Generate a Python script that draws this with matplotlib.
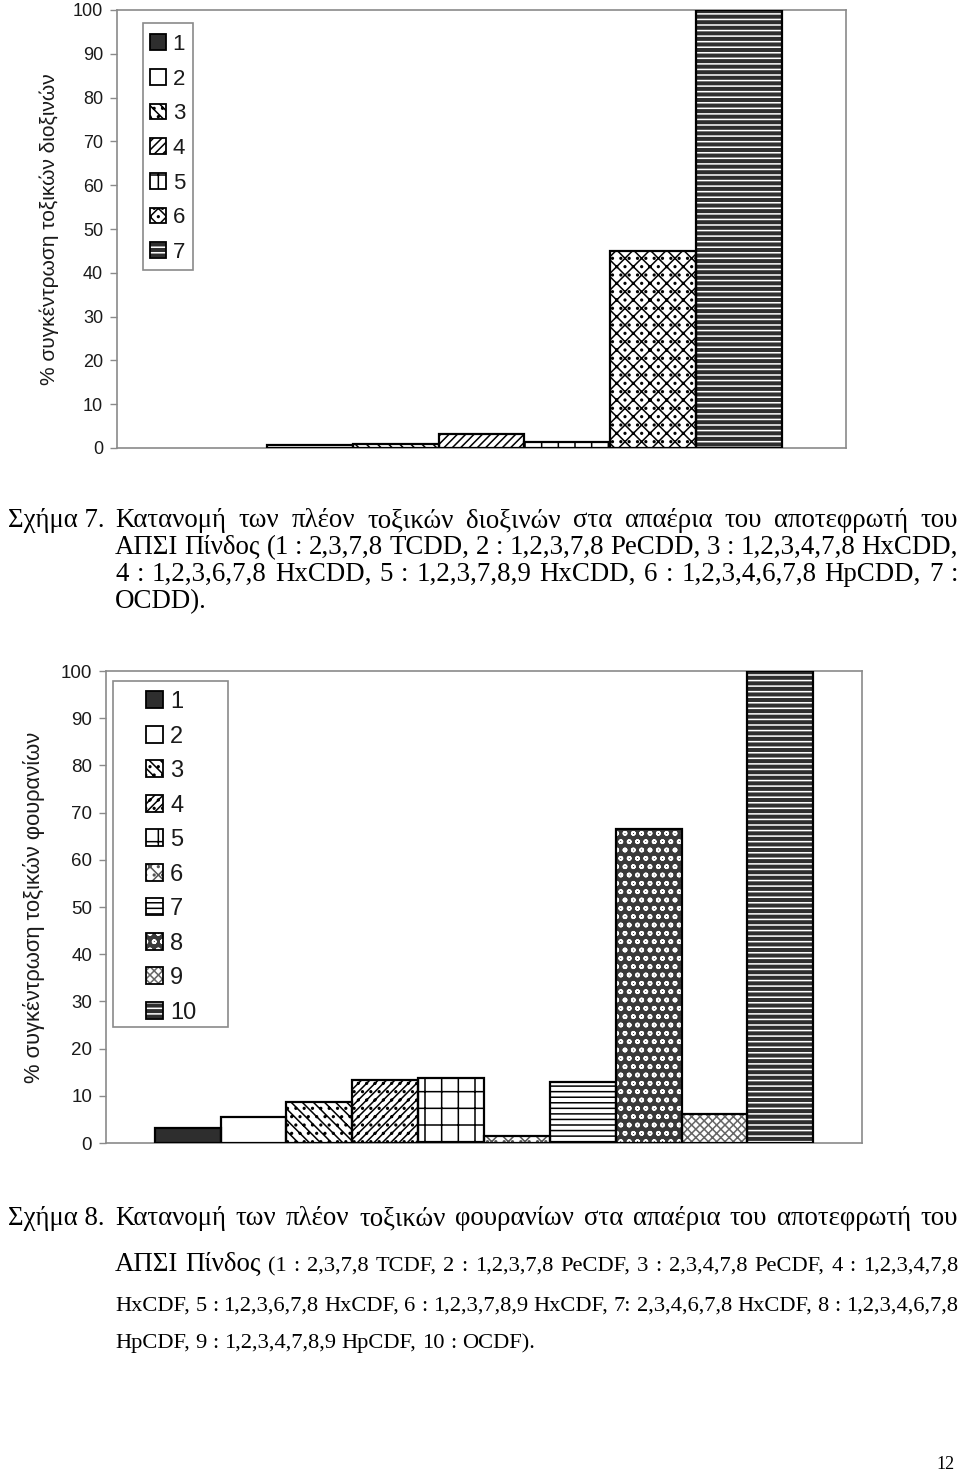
import numpy as np
import matplotlib
matplotlib.use("Agg")
import matplotlib.pyplot as plt
from matplotlib.patches import Patch, Rectangle

# ---------------- data ----------------
dioxin_labels = ["1", "2", "3", "4", "5", "6", "7"]
dioxin_values = [0.0, 0.6, 0.9, 3.1, 1.4, 45.0, 100.0]

furan_labels = ["1", "2", "3", "4", "5", "6", "7", "8", "9", "10"]
furan_values = [3.1, 5.5, 8.7, 13.3, 13.7, 1.4, 12.9, 66.5, 6.2, 100.0]

y_ticks = [0, 10, 20, 30, 40, 50, 60, 70, 80, 90, 100]

ylabel_top = "% συγκέντρωση τοξικών διοξινών"
ylabel_bottom = "% συγκέντρωση τοξικών φουρανίων"

caption7_head = "Σχήμα 7."
caption7_lines = [
    "Κατανομή των πλέον τοξικών διοξινών στα απαέρια του αποτεφρωτή του",
    "ΑΠΣΙ Πίνδος (1 : 2,3,7,8 TCDD, 2 : 1,2,3,7,8 PeCDD, 3 : 1,2,3,4,7,8 HxCDD,",
    "4 : 1,2,3,6,7,8 HxCDD, 5 : 1,2,3,7,8,9 HxCDD, 6 : 1,2,3,4,6,7,8 HpCDD, 7 :",
    "OCDD).",
]
caption8_head = "Σχήμα 8."
caption8_line1 = "Κατανομή των πλέον τοξικών φουρανίων στα απαέρια του αποτεφρωτή του"
caption8_place = "ΑΠΣΙ Πίνδος"
caption8_lines = [
    "(1 : 2,3,7,8 TCDF, 2 : 1,2,3,7,8 PeCDF, 3 : 2,3,4,7,8 PeCDF, 4 : 1,2,3,4,7,8",
    "HxCDF, 5 : 1,2,3,6,7,8 HxCDF, 6 : 1,2,3,7,8,9 HxCDF, 7: 2,3,4,6,7,8 HxCDF, 8 : 1,2,3,4,6,7,8",
    "HpCDF, 9 : 1,2,3,4,7,8,9 HpCDF, 10 : OCDF).",
]
page_number = "12"

# ---------------- styles ----------------
DARK = "#2e2e2e"
dioxin_styles = [
    dict(face=DARK, hatch=None, hcol=DARK),
    dict(face="white", hatch=None, hcol="black"),
    dict(face="white", hatch="\\\\\\..", hcol="black"),
    dict(face="white", hatch="////", hcol="black"),
    dict(face="white", hatch="+", hcol="black"),
    dict(face="white", hatch="xx..", hcol="black"),
    dict(face=DARK, hatch="---", hcol="white"),
]
furan_styles = [
    dict(face=DARK, hatch=None, hcol=DARK),
    dict(face="white", hatch=None, hcol="black"),
    dict(face="white", hatch="\\\\\\..", hcol="black"),
    dict(face="white", hatch="////..", hcol="black"),
    dict(face="white", hatch="+", hcol="black"),
    dict(face="white", hatch="xx..", hcol="#555555"),
    dict(face="white", hatch="---", hcol="black"),
    dict(face="#3a3a3a", hatch="oo", hcol="white"),
    dict(face="white", hatch="xxxx", hcol="#666666"),
    dict(face=DARK, hatch="---", hcol="white"),
]

W, H, DPI = 960, 1479, 100
plt.rcParams["font.family"] = ["Liberation Sans", "DejaVu Sans"]
plt.rcParams["hatch.linewidth"] = 1.1

fig = plt.figure(figsize=(W / DPI, H / DPI), dpi=DPI)
fig.patch.set_facecolor("white")

GRAY = "#8a8a8a"


def px_axes(left, top, right, bottom):
    return fig.add_axes([left / W, 1 - bottom / H, (right - left) / W, (bottom - top) / H])


def draw_chart(ax, values, labels, styles, ylabel, tick_fs, label_fs, label_x,
               leg_fs, leg_anchor, leg_spacing, frame_px):
    n = len(values)
    x = np.arange(n)
    handles = []
    for i, (v, s) in enumerate(zip(values, styles)):
        ax.bar(x[i], v, width=1.0, color=s["face"], edgecolor=s["hcol"],
               hatch=s["hatch"], linewidth=0, zorder=2)
        ax.bar(x[i], v, width=1.0, fill=False, edgecolor="black",
               linewidth=1.6 if v > 0 else 0, zorder=3)
        handles.append((Patch(facecolor=s["face"], edgecolor=s["hcol"], hatch=s["hatch"], lw=0),
                        Patch(facecolor="none", edgecolor="black", lw=1.3)))
    ax.set_xlim(-0.5 - 0.74, n - 0.5 + 0.74)
    ax.set_ylim(0, 100)
    ax.set_yticks(y_ticks)
    ax.set_yticklabels([str(t) for t in y_ticks], fontsize=tick_fs, color="#1a1a1a")
    ax.set_xticks([])
    ax.tick_params(axis="y", direction="out", length=5, width=1, color=GRAY, pad=5)
    for sp in ax.spines.values():
        sp.set_color(GRAY)
        sp.set_linewidth(1.2)
    ax.set_ylabel(ylabel, fontsize=label_fs, color="#1a1a1a")
    ax.yaxis.set_label_coords(label_x, 0.5)

    leg = ax.legend(handles, labels, loc="upper left", bbox_to_anchor=leg_anchor,
                    bbox_transform=fig.transFigure, frameon=False, fontsize=leg_fs,
                    handlelength=0.72, handleheight=0.72, handletextpad=0.3,
                    labelspacing=leg_spacing, borderpad=0, borderaxespad=0)
    for t in leg.get_texts():
        t.set_color("#1a1a1a")
    fx0, fy0, fx1, fy1 = frame_px
    fig.add_artist(Rectangle((fx0 / W, 1 - fy1 / H), (fx1 - fx0) / W, (fy1 - fy0) / H,
                             transform=fig.transFigure, fill=False, edgecolor=GRAY, lw=1.2))


# top chart
ax1 = px_axes(117, 10, 846, 448)
draw_chart(ax1, dioxin_values, dioxin_labels, dioxin_styles, ylabel_top,
           tick_fs=13, label_fs=15, label_x=(59 - 117) / 729,
           leg_fs=16, leg_anchor=(150 / W, 1 - 34 / H), leg_spacing=0.615,
           frame_px=(143, 23, 193, 270))

# bottom chart
ax2 = px_axes(106, 671, 862, 1143)
draw_chart(ax2, furan_values, furan_labels, furan_styles, ylabel_bottom,
           tick_fs=13.5, label_fs=15.8, label_x=(45 - 106) / 756,
           leg_fs=17, leg_anchor=(146 / W, 1 - 691 / H), leg_spacing=0.53,
           frame_px=(113, 681, 228, 1027))

# ---------------- captions ----------------
SERIF = ["Liberation Serif", "DejaVu Serif"]
fig.canvas.draw()
renderer = fig.canvas.get_renderer()


def place_words(words, x0, x1, baseline, justify=True):
    """words: list of (text, size). Places words from x0 to x1 (pixels)."""
    objs = []
    for w, s in words:
        t = fig.text(0, 1 - baseline / H, w, fontsize=s, family=SERIF, color="black",
                     ha="left", va="baseline")
        objs.append(t)
    widths = [t.get_window_extent(renderer).width for t in objs]
    if justify and len(objs) > 1:
        gap = (x1 - x0 - sum(widths)) / (len(objs) - 1)
    else:
        gap = 0.25 * words[0][1] * DPI / 72
    x = x0
    for t, wd in zip(objs, widths):
        t.set_x(x / W)
        x += wd + gap


CAP_FS = 19.4
SMALL_FS = 16.2
X_IND, X_RIGHT = 115, 958

# caption 7
fig.text(8 / W, 1 - 527 / H, caption7_head, fontsize=CAP_FS, family=SERIF, ha="left", va="baseline")
place_words([(w, CAP_FS) for w in caption7_lines[0].split()], X_IND, X_RIGHT, 527)
place_words([(w, CAP_FS) for w in caption7_lines[1].split()], X_IND, X_RIGHT, 554)
place_words([(w, CAP_FS) for w in caption7_lines[2].split()], X_IND, X_RIGHT, 581)
place_words([(w, CAP_FS) for w in caption7_lines[3].split()], X_IND, X_RIGHT, 608, justify=False)

# caption 8
fig.text(8 / W, 1 - 1225 / H, caption8_head, fontsize=CAP_FS, family=SERIF, ha="left", va="baseline")
place_words([(w, CAP_FS) for w in caption8_line1.split()], X_IND, X_RIGHT, 1225)
line2 = [(w, CAP_FS) for w in caption8_place.split()] + [(w, SMALL_FS) for w in caption8_lines[0].split()]
place_words(line2, X_IND, X_RIGHT, 1271)
place_words([(w, SMALL_FS) for w in caption8_lines[1].split()], X_IND, X_RIGHT, 1311)
place_words([(w, SMALL_FS) for w in caption8_lines[2].split()], X_IND, X_RIGHT, 1348, justify=False)

fig.text(955 / W, 1 - 1469 / H, page_number, fontsize=13, family=SERIF, ha="right", va="baseline")

fig.savefig("out.png", dpi=DPI, facecolor="white")
